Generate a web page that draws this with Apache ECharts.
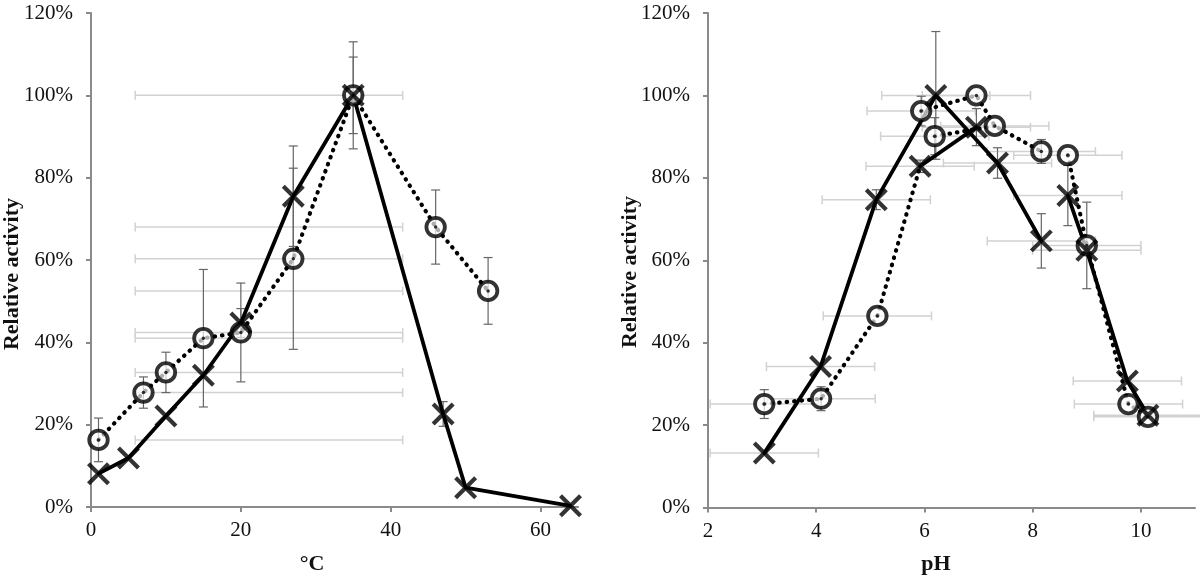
<!DOCTYPE html>
<html>
<head>
<meta charset="utf-8">
<script src="https://cdn.jsdelivr.net/npm/echarts@6/dist/echarts.min.js"></script>
<style>
html,body{margin:0;padding:0;background:#fff;}
#c{width:1200px;height:577px;}
</style>
</head>
<body>
<div id="c"></div>
<script>
// ---------- Temperature chart (left) ----------
const tempCircX   = [1, 7, 10, 15, 20, 27, 35, 46, 53];
const tempCircY   = [16.3, 27.8, 32.7, 41.0, 42.4, 60.3, 100, 68.0, 52.5];
const tempCircErr = [5.3, 3.8, 4.9, 16.7, 12.0, 22.0, 13.0, 9.0, 8.1];
const tempCircXLow  = [5.9, 5.9, 5.9, 5.9, 5.9, 5.9, 5.9, 5.9, 5.9];
const tempCircXHigh = [41.6, 41.6, 41.6, 41.6, 41.6, 41.6, 41.6, 41.6, 41.6];

const tempCrossX   = [1, 5, 10, 15, 20, 27, 35, 47, 50, 64];
const tempCrossY   = [8.1, 11.9, 22.1, 32.0, 44.7, 75.5, 100, 22.6, 4.7, 0.3];
const tempCrossErr = [0, 0, 0, 0, 3.5, 12.2, 9.3, 3.0, 0, 0];

// ---------- pH chart (right) ----------
const phCircX   = [3.04, 4.09, 5.13, 5.94, 6.19, 6.96, 7.30, 8.16, 8.65, 9.00, 9.77, 10.13];
const phCircY   = [25.1, 26.4, 46.5, 96.2, 90.1, 100, 92.6, 86.4, 85.5, 63.6, 25.1, 22.0];
const phCircErr = [3.5, 2.9, 0, 3.6, 4.5, 0, 0, 2.9, 0, 10.5, 0, 0];

const phCrossX   = [3.04, 4.08, 5.11, 5.92, 6.21, 6.96, 7.35, 8.16, 8.65, 9.00, 9.75, 10.13];
const phCrossY   = [13.2, 34.2, 74.7, 82.8, 100, 92.3, 83.6, 64.7, 75.7, 62.4, 30.7, 22.4];
const phCrossErr = [0, 0, 2.4, 1.5, 15.5, 4.5, 3.7, 6.6, 7.3, 0, 0, 0];

const phXErr = 1.0; // horizontal error (pH units) on every point

// Line connections (indices into the arrays above): 'c' = circle series, 'x' = cross series
const phSolidPaths  = [[['x',0],['x',1],['x',2],['x',4],['x',6],['x',7]],
                       [['x',3],['x',5]],
                       [['x',8],['x',9],['x',10],['x',11]]];
const phDottedPaths = [[['c',0],['c',1],['c',2],['x',3]],
                       [['c',3],['c',5],['c',6],['c',7]],
                       [['c',4],['c',6]],
                       [['c',8],['c',9],['c',10],['c',11]]];

// Axis ticks
const yTicks = {min: 0, max: 120, interval: 20};
const tempTicks = {min: 0, max: 65, interval: 20};
const phTicks = {min: 2, max: 11, interval: 2};

// ---------- helpers ----------
const zip = (xs, ys) => xs.map((x, i) => [x, ys[i]]);
function vErr(xs, ys, es) {
  const out = [];
  xs.forEach((x, i) => { if (es[i] > 0) out.push([x, ys[i] - es[i], ys[i] + es[i]]); });
  return out;
}
function hErrRange(ys, lo, hi) { return ys.map((y, i) => [y, lo[i], hi[i]]); }
function hErrSym(xs, ys, e) { return ys.map((y, i) => [y, xs[i] - e, xs[i] + e]); }
function pathData(path) {
  return path.map(([s, i]) => s === 'c' ? [phCircX[i], phCircY[i]] : [phCrossX[i], phCrossY[i]]);
}

const FONT = '"Liberation Serif", "DejaVu Serif", serif';
const AXIS_COLOR = '#8a8a8a';
const CAP = 4.5;

function vRender(params, api) {
  const x = api.value(0), lo = api.value(1), hi = api.value(2);
  const a = api.coord([x, lo]), b = api.coord([x, hi]);
  const st = {stroke: '#666', lineWidth: 1.2};
  return {type: 'group', children: [
    {type: 'line', shape: {x1: a[0], y1: a[1], x2: b[0], y2: b[1]}, style: st},
    {type: 'line', shape: {x1: a[0]-CAP, y1: a[1], x2: a[0]+CAP, y2: a[1]}, style: st},
    {type: 'line', shape: {x1: b[0]-CAP, y1: b[1], x2: b[0]+CAP, y2: b[1]}, style: st}
  ]};
}
function hRender(params, api) {
  const y = api.value(0), lo = api.value(1), hi = api.value(2);
  const a = api.coord([lo, y]), b = api.coord([hi, y]);
  const st = {stroke: '#d2d2d2', lineWidth: 1.5};
  return {type: 'group', children: [
    {type: 'line', shape: {x1: a[0], y1: a[1], x2: b[0], y2: b[1]}, style: st},
    {type: 'line', shape: {x1: a[0], y1: a[1]-CAP, x2: a[0], y2: a[1]+CAP}, style: st},
    {type: 'line', shape: {x1: b[0], y1: b[1]-CAP, x2: b[0], y2: b[1]+CAP}, style: st}
  ]};
}

const CROSS = 'path://M0,0L10,10M10,0L0,10';

function xAxisCfg(idx, t) {
  return {
    type: 'value', gridIndex: idx, min: t.min, max: t.max, interval: t.interval,
    splitLine: {show: false},
    axisLine: {lineStyle: {color: AXIS_COLOR, width: 2}},
    axisTick: {show: true, length: 5, lineStyle: {color: AXIS_COLOR, width: 2}},
    axisLabel: {color: '#111', fontFamily: FONT, fontSize: 21, margin: 13, showMaxLabel: false}
  };
}
function yAxisCfg(idx) {
  return {
    type: 'value', gridIndex: idx, min: yTicks.min, max: yTicks.max, interval: yTicks.interval,
    splitLine: {show: false},
    axisLine: {show: true, lineStyle: {color: AXIS_COLOR, width: 2}},
    axisTick: {show: true, length: 5, lineStyle: {color: AXIS_COLOR, width: 2}},
    axisLabel: {color: '#111', fontFamily: FONT, fontSize: 21, margin: 18, formatter: '{value}%'}
  };
}

function lineSeries(idx, data, dotted) {
  return {
    type: 'line', xAxisIndex: idx, yAxisIndex: idx, data: data, showSymbol: false, symbol: 'none',
    silent: true, animation: false, z: 3,
    lineStyle: dotted ? {color: '#000', width: 4.2, type: [0.5, 7], cap: 'round'}
                      : {color: '#000', width: 3.8, cap: 'round', join: 'round'}
  };
}
function circleSeries(idx, data) {
  return [{
    type: 'scatter', xAxisIndex: idx, yAxisIndex: idx, data: data, symbol: 'circle', symbolSize: 18.5,
    itemStyle: {color: 'rgba(255,255,255,0.85)', borderColor: '#000', borderWidth: 3.8}, z: 5, animation: false
  }, {
    type: 'scatter', xAxisIndex: idx, yAxisIndex: idx, data: data, symbol: 'circle', symbolSize: 3.5,
    itemStyle: {color: '#000'}, z: 6, animation: false
  }];
}
function crossSeries(idx, data) {
  return {
    type: 'scatter', xAxisIndex: idx, yAxisIndex: idx, data: data, symbol: CROSS, symbolSize: 20,
    itemStyle: {color: 'none', borderColor: '#000', borderWidth: 4.2}, z: 7, animation: false
  };
}
function errSeries(idx, data, horiz) {
  return {
    type: 'custom', xAxisIndex: idx, yAxisIndex: idx, data: data,
    renderItem: horiz ? hRender : vRender,
    encode: horiz ? {x: [1, 2], y: 0} : {x: 0, y: [1, 2]},
    z: horiz ? 1 : 2, silent: true, animation: false
  };
}

const series = [
  // left
  errSeries(0, hErrRange(tempCircY, tempCircXLow, tempCircXHigh), true),
  errSeries(0, vErr(tempCircX, tempCircY, tempCircErr), false),
  errSeries(0, vErr(tempCrossX, tempCrossY, tempCrossErr), false),
  lineSeries(0, zip(tempCircX, tempCircY), true),
  lineSeries(0, zip(tempCrossX, tempCrossY), false),
  ...circleSeries(0, zip(tempCircX, tempCircY)),
  crossSeries(0, zip(tempCrossX, tempCrossY)),
  // right
  errSeries(1, hErrSym(phCircX, phCircY, phXErr), true),
  errSeries(1, hErrSym(phCrossX, phCrossY, phXErr), true),
  errSeries(1, vErr(phCircX, phCircY, phCircErr), false),
  errSeries(1, vErr(phCrossX, phCrossY, phCrossErr), false),
  ...phDottedPaths.map(p => lineSeries(1, pathData(p), true)),
  ...phSolidPaths.map(p => lineSeries(1, pathData(p), false)),
  ...circleSeries(1, zip(phCircX, phCircY)),
  crossSeries(1, zip(phCrossX, phCrossY))
];

const titleStyle = (t) => ({text: t, font: 'bold 22px ' + FONT, fill: '#111', textAlign: 'center', textVerticalAlign: 'middle'});

const chart = echarts.init(document.getElementById('c'), null, {renderer: 'canvas'});
chart.setOption({
  backgroundColor: '#fff',
  animation: false,
  grid: [
    {left: 91, top: 13, width: 487, height: 494, containLabel: false},
    {left: 708, top: 13, width: 487, height: 494.5, containLabel: false}
  ],
  xAxis: [xAxisCfg(0, tempTicks), xAxisCfg(1, phTicks)],
  yAxis: [yAxisCfg(0), yAxisCfg(1)],
  graphic: [
    {type: 'text', x: 12, y: 274, rotation: Math.PI / 2, style: titleStyle('Relative activity')},
    {type: 'text', x: 630, y: 272, rotation: Math.PI / 2, style: titleStyle('Relative activity')},
    {type: 'text', x: 312, y: 564, style: titleStyle('°C')},
    {type: 'text', x: 936, y: 564, style: titleStyle('pH')}
  ],
  series: series
});
</script>
</body>
</html>
